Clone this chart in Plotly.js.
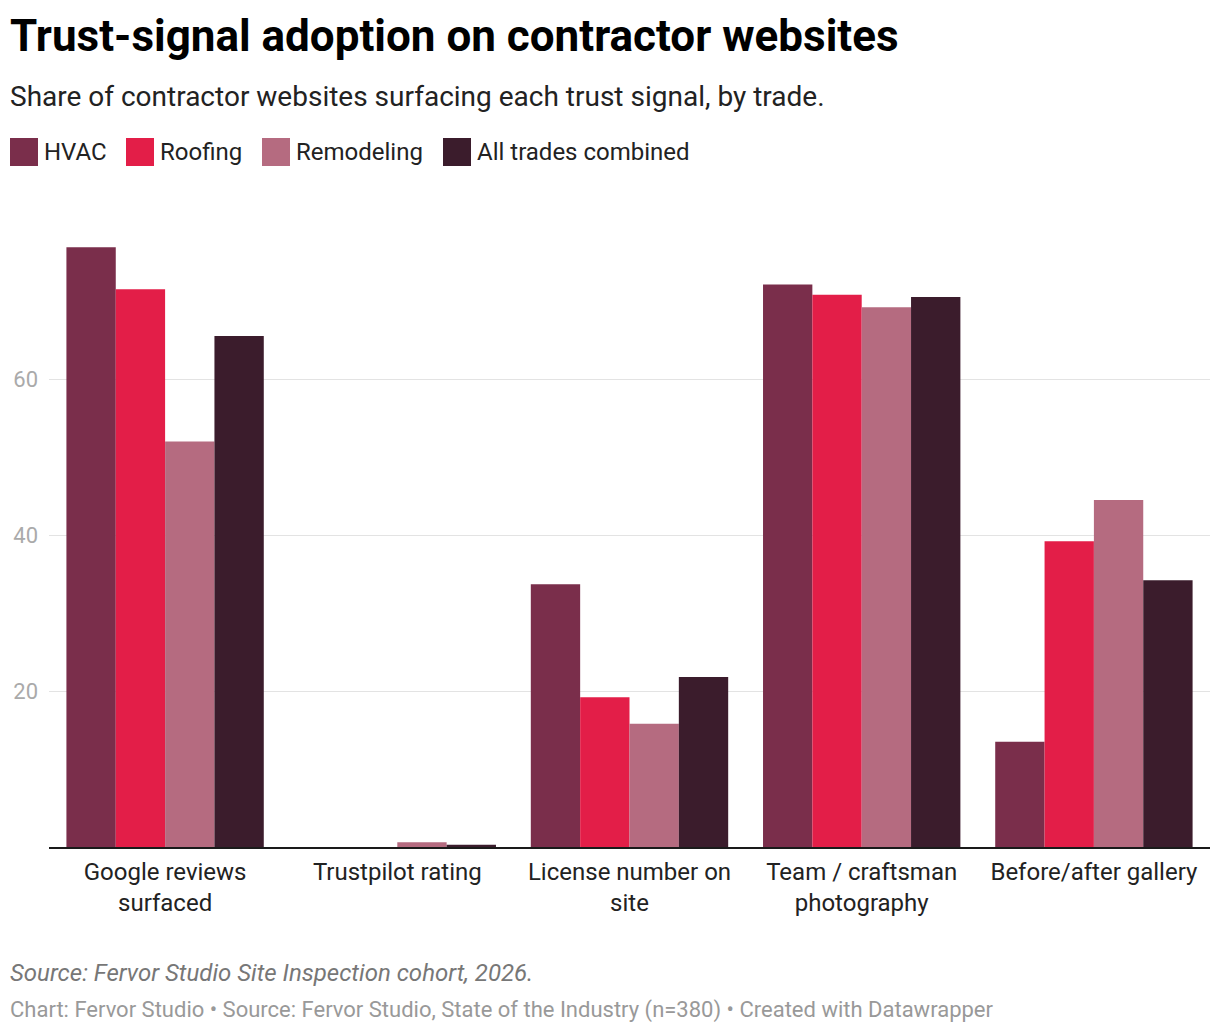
<!DOCTYPE html>
<html>
<head>
<meta charset="utf-8">
<script src="https://cdn.plot.ly/plotly-3.0.1.min.js"></script>
<style>
  html, body { margin: 0; padding: 0; background: #fff; }
  #chart { width: 1220px; height: 1034px; }
</style>
</head>
<body>
<div id="chart"></div>
<script>
// trust signals (x categories)
var signals = [
  "Google reviews<br>surfaced",
  "Trustpilot rating",
  "License number on<br>site",
  "Team / craftsman<br>photography",
  "Before/after gallery"
];

// share of websites, %
var hvac       = [76.9, 0,   33.7, 72.1, 13.5];
var roofing    = [71.5, 0,   19.2, 70.8, 39.2];
var remodeling = [52.0, 0.6, 15.8, 69.2, 44.5];
var allTrades  = [65.5, 0.3, 21.8, 70.5, 34.2];

var seriesNames  = ["HVAC", "Roofing", "Remodeling", "All trades combined"];
var seriesColors = ["#7a2e4b", "#e31e48", "#b56b80", "#3b1c2c"];
var yTicks = [20, 40, 60];

// plot area in pixels
var W = 1220, H = 1034;
var L = 49, R = 10, T = 200, B = 187;
var plotW = W - L - R, plotH = H - T - B;
function px(x) { return (x - L) / plotW; }
function py(y) { return (H - B - y) / plotH; }

var values = [hvac, roofing, remodeling, allTrades];
var traces = values.map(function (v, i) {
  return {
    type: "bar",
    name: seriesNames[i],
    x: signals,
    y: v,
    marker: { color: seriesColors[i], line: { width: 0 } },
    hoverinfo: "name+y"
  };
});

// hand-made legend (big squares like the original)
var legendX = [10, 126, 262, 443];
var shapes = [];
var annotations = [];
seriesNames.forEach(function (n, i) {
  shapes.push({
    type: "rect", xref: "paper", yref: "paper",
    x0: px(legendX[i]), x1: px(legendX[i] + 28),
    y0: py(166), y1: py(138),
    fillcolor: seriesColors[i], line: { width: 0 }
  });
  annotations.push({
    xref: "paper", yref: "paper", x: px(legendX[i] + 32), y: py(152),
    xanchor: "left", yanchor: "middle", showarrow: false,
    text: n, font: { size: 24, color: "#222" }
  });
});

annotations.push(
  {
    xref: "paper", yref: "paper", x: px(8), y: py(36),
    xanchor: "left", yanchor: "middle", showarrow: false,
    text: "<b>Trust-signal adoption on contractor websites</b>",
    font: { size: 44, color: "#000" }
  },
  {
    xref: "paper", yref: "paper", x: px(8), y: py(96),
    xanchor: "left", yanchor: "middle", showarrow: false,
    text: "Share of contractor websites surfacing each trust signal, by trade.",
    font: { size: 28, color: "#222" }
  },
  {
    xref: "paper", yref: "paper", x: px(8), y: py(973),
    xanchor: "left", yanchor: "middle", showarrow: false,
    text: "<i>Source: Fervor Studio Site Inspection cohort, 2026.</i>",
    font: { size: 24, color: "#777" }
  },
  {
    xref: "paper", yref: "paper", x: px(8), y: py(1010),
    xanchor: "left", yanchor: "middle", showarrow: false,
    text: "Chart: Fervor Studio \u2022 Source: Fervor Studio, State of the Industry (n=380) \u2022 Created with Datawrapper",
    font: { size: 22, color: "#999" }
  }
);

var layout = {
  width: W, height: H,
  margin: { l: L, r: R, t: T, b: B, pad: 0 },
  paper_bgcolor: "#fff",
  plot_bgcolor: "#fff",
  font: { family: "Roboto, sans-serif", color: "#222" },
  showlegend: false,
  barmode: "group",
  bargap: 0.15,
  bargroupgap: 0,
  xaxis: {
    type: "category",
    showline: true, linecolor: "#1a1a1a", linewidth: 2,
    showgrid: false, ticks: "",
    tickfont: { size: 24, color: "#222" },
    ticklabelstandoff: 2,
    fixedrange: true
  },
  yaxis: {
    range: [0, plotH / 7.8],
    tickvals: yTicks,
    ticktext: yTicks.map(String),
    showgrid: true, gridcolor: "#e3e3e3", gridwidth: 1,
    zeroline: false, showline: false, ticks: "",
    tickfont: { size: 22, color: "#aaa" },
    ticklabelstandoff: 10,
    fixedrange: true
  },
  shapes: shapes,
  annotations: annotations
};

Plotly.newPlot("chart", traces, layout, { displayModeBar: false, staticPlot: true });
</script>
</body>
</html>
